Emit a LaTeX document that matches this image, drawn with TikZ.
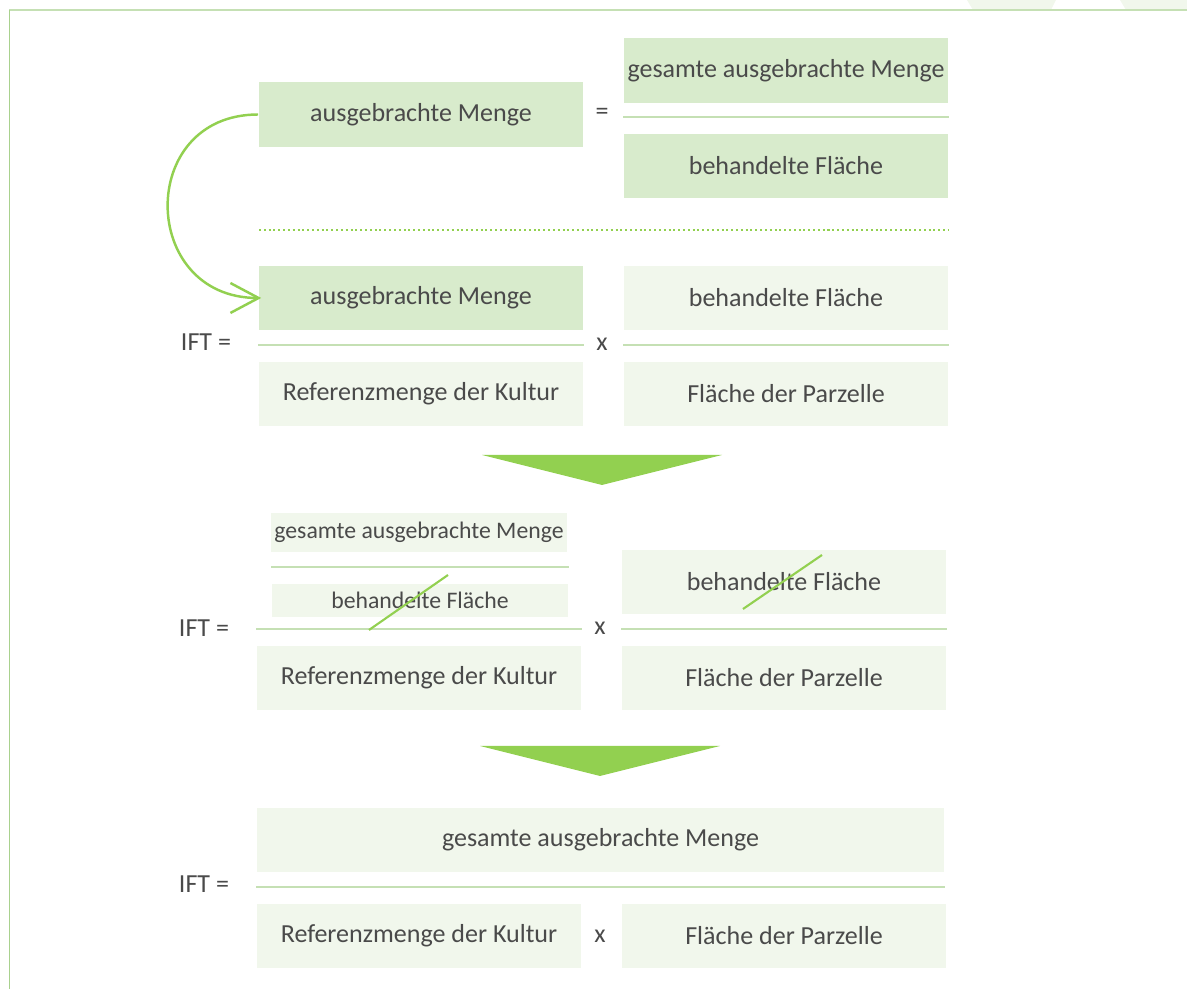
\documentclass[tikz,border=0pt]{standalone}
\usepackage{fontspec}
\setmainfont{Carlito}
\usetikzlibrary{arrows.meta,positioning,calc}
\definecolor{gdark}{HTML}{D8EBCC}
\definecolor{glight}{HTML}{F1F7EC}
\definecolor{gline}{HTML}{C5E0B4}
\definecolor{gmain}{HTML}{92D050}
\definecolor{gframe}{HTML}{A9D18E}
\definecolor{txt}{HTML}{4A4A4A}
\tikzset{
	box/.style={minimum width=3.24cm, minimum height=0.64cm, inner sep=0pt, text=txt, font=\fontsize{7.4}{9}\selectfont},
	darkbox/.style={box, fill=gdark},
	lightbox/.style={box, fill=glight},
	smallbox/.style={lightbox, minimum width=2.96cm, font=\fontsize{6.75}{8}\selectfont},
	lbl/.style={text=txt, inner sep=0pt, font=\fontsize{7.4}{9}\selectfont},
	fracline/.style={gline, line width=0.6pt},
	strike/.style={gmain, line width=0.6pt}
}
\begin{document}
\begin{tikzpicture}[x=0.01cm,y=-0.01cm]
	\useasboundingbox (0,0) rectangle (1187,989);
	\fill[glight] (967,0) -- (1056,0) -- (1051,10) -- (973,10) -- cycle;
	\fill[glight] (1120,0) -- (1187,0) -- (1187,10) -- (1126,10) -- cycle;
	\draw[gline, line width=0.6pt] (9,10) -- (1187,10);
	\draw[gframe, line width=0.5pt] (9.5,10) -- (9.5,989);

	\node[darkbox] (a1) at (421,114.5) {ausgebrachte Menge};
	\node[lbl] (eq1) at (602,114) {=};
	\node[darkbox] (g1) at (786,70.5) {gesamte ausgebrachte Menge};
	\node[darkbox] (b1) at (786,166) {behandelte Fläche};
	\draw[fracline] ([yshift=0.16cm]b1.north west) -- ([yshift=0.16cm]b1.north east);
	\coordinate (d1) at (259,230);
	\coordinate (d2) at (948,230);
	\draw[gmain, line width=0.57pt, dash pattern=on 0.57pt off 0.8pt] (d1) -- (d2);

	\node[lbl] (ift2) at (206,342) {IFT =};
	\node[darkbox] (a2) at (421,298) {ausgebrachte Menge};
	\node[lightbox] (b2) at (786,298) {behandelte Fläche};
	\node[lightbox] (r2) at (421,394) {Referenzmenge der Kultur};
	\node[lightbox] (f2) at (786,394) {Fläche der Parzelle};
	\node[lbl] (x2) at (602,344) {x};
	\draw[fracline] ([yshift=0.16cm]r2.north west) -- ([yshift=0.16cm]r2.north east);
	\draw[fracline] ([yshift=0.16cm]f2.north west) -- ([yshift=0.16cm]f2.north east);
	\draw[gmain, line width=0.7pt, -{Straight Barb[length=8pt,width=8.5pt]}] (a1.west) to[out=180, in=180, looseness=1.7] ([xshift=0.03cm]a2.west);

	\fill[gmain] (482,455) -- (722,455) -- (602,485) -- cycle;

	\node[lbl] (ift3) at (204,628) {IFT =};
	\node[smallbox, minimum height=0.39cm] (g3) at (419,532.5) {gesamte ausgebrachte Menge};
	\node[smallbox, minimum height=0.33cm] (bh3) at (420,600.5) {behandelte Fläche};
	\draw[fracline] ([yshift=0.16cm]bh3.north west) -- ([yshift=0.16cm]bh3.north east);
	\node[lightbox] (b3) at (784,582) {behandelte Fläche};
	\node[lightbox] (r3) at (419,678) {Referenzmenge der Kultur};
	\node[lightbox] (f3) at (784,678) {Fläche der Parzelle};
	\node[lbl] (x3) at (600,628) {x};
	\draw[fracline] ([yshift=0.16cm]r3.north west) -- ([yshift=0.16cm]r3.north east);
	\draw[fracline] ([yshift=0.16cm]f3.north west) -- ([yshift=0.16cm]f3.north east);
	\coordinate (s1a) at (369,630);
	\coordinate (s1b) at (448,575);
	\coordinate (s2a) at (743,609);
	\coordinate (s2b) at (822,555);
	\draw[strike] (s1a) -- (s1b);
	\draw[strike] (s2a) -- (s2b);

	\fill[gmain] (480,746) -- (720,746) -- (600,776) -- cycle;

	\node[lbl] (ift4) at (204,884) {IFT =};
	\node[lightbox, minimum width=6.87cm] (g4) at (600.5,840) {gesamte ausgebrachte Menge};
	\node[lightbox] (r4) at (419,936) {Referenzmenge der Kultur};
	\node[lightbox] (f4) at (784,936) {Fläche der Parzelle};
	\node[lbl] (x4) at (600,936) {x};
	\coordinate (l4a) at ([yshift=0.16cm]r4.north west);
	\coordinate (l4b) at (l4a -| g4.east);
	\draw[fracline] (l4a) -- (l4b);
\end{tikzpicture}
\end{document}
